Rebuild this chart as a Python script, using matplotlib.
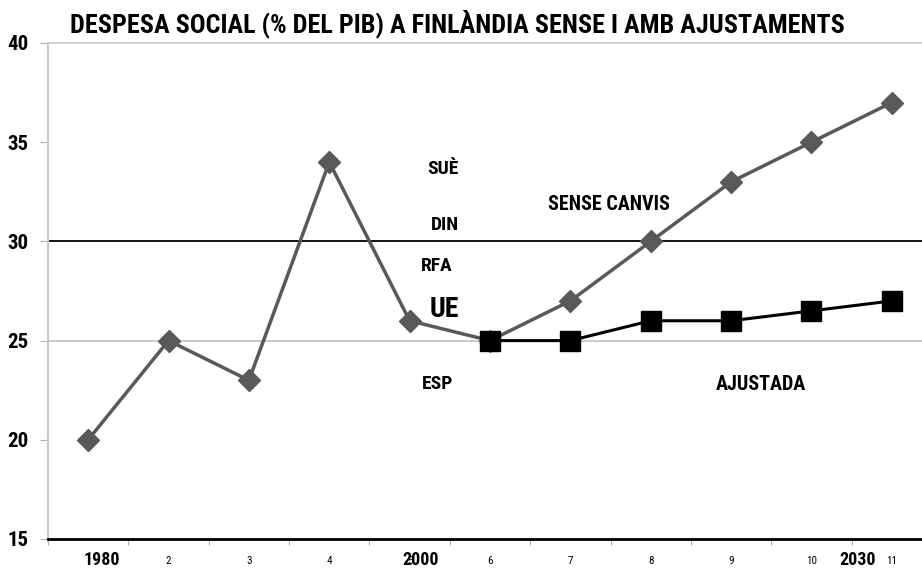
import matplotlib
matplotlib.use("Agg")
import matplotlib.pyplot as plt
import matplotlib.transforms as mtransforms
import numpy as np

plt.rcParams['font.family'] = ['Roboto Condensed', 'DejaVu Sans']
plt.rcParams['font.weight'] = 'bold'

# Data
categories = list(range(1, 12))
tick_labels = ["", "2", "3", "4", "5", "6", "7", "8", "9", "10", "11"]
sense_canvis = [20, 25, 23, 34, 26, 25, 27, 30, 33, 35, 37]
ajustada = [np.nan, np.nan, np.nan, np.nan, np.nan, 25, 25, 26, 26, 26.5, 27]
year_labels = ["1980", "2000", "2030"]
year_pos = [1.17, 5.14, 10.57]
country_labels = ["SUÈ", "DIN", "RFA", "UE", "ESP"]
country_x = [5.41, 5.44, 5.34, 5.43, 5.35]
country_y = [33.75, 30.93, 28.86, 26.74, 22.91]
series_labels = ["SENSE CANVIS", "AJUSTADA"]
series_label_x = [7.48, 9.37]
series_label_y = [31.96, 22.89]
ref_lines = [30]

W, H = 922, 569
fig = plt.figure(figsize=(W / 100, H / 100), dpi=100)
left, right, top, bottom = 48, 932, 43, 539
ax = fig.add_axes([left / W, 1 - bottom / H, (right - left) / W, (bottom - top) / H])

ax.set_xlim(0.5, 11.5)
ax.set_ylim(15, 40)

# grid lines
ax.axhline(25, color='#c0c0c0', lw=1.2, zorder=1)
ax.axhline(40, color='#c8c8c8', lw=1.2, zorder=1, clip_on=False)
for v in ref_lines:
    ax.axhline(v, color='black', lw=1.3, zorder=1)

ax.plot(categories, sense_canvis, color='#595959', lw=2.5, marker='D', ms=11,
        mfc='#595959', mec='#595959', zorder=3)
ax.plot(categories, ajustada, color='black', lw=2.2, marker='s', ms=15,
        mfc='black', mec='black', zorder=4)

for s in ['top', 'right']:
    ax.spines[s].set_visible(False)
ax.spines['left'].set_color('#c8c8c8')
ax.spines['left'].set_linewidth(1.5)
ax.spines['bottom'].set_color('black')
ax.spines['bottom'].set_linewidth(2)

ax.set_yticks([15, 20, 25, 30, 35, 40])
ax.set_yticklabels(['15', '20', '25', '30', '35', '40'], fontsize=15, fontweight='bold')
ax.tick_params(axis='y', length=6, color='#b0b0b0', pad=8)

ax.set_xticks(np.arange(0.5, 11.5, 1.0))
ax.set_xticklabels([])
ax.tick_params(axis='x', which='major', length=4, color='#b0b0b0')
ax.set_xticks(categories, minor=True)
ax.set_xticklabels(tick_labels, minor=True, fontsize=8, fontweight='normal')
ax.tick_params(axis='x', which='minor', length=0, pad=12)

trans = mtransforms.blended_transform_factory(ax.transData, ax.transAxes)
for lab, xp in zip(year_labels, year_pos):
    ax.text(xp, -0.042, lab, transform=trans, ha='center', va='center',
            fontsize=13, fontweight='bold')

for lab, xp, yp in zip(country_labels, country_x, country_y):
    fs = 20 if lab == "UE" else 14
    ax.text(xp, yp, lab, ha='center', va='center_baseline', fontsize=fs, fontweight='bold')

for lab, xp, yp in zip(series_labels, series_label_x, series_label_y):
    ax.text(xp, yp, lab, ha='center', va='center_baseline', fontsize=14.5, fontweight='bold')

fig.text(457 / W, 1 - 21 / H, "DESPESA SOCIAL (% DEL PIB) A FINLÀNDIA SENSE I AMB AJUSTAMENTS",
         ha='center', va='center_baseline', fontsize=18.8, fontweight='bold')

fig.savefig("out.png", dpi=100)
